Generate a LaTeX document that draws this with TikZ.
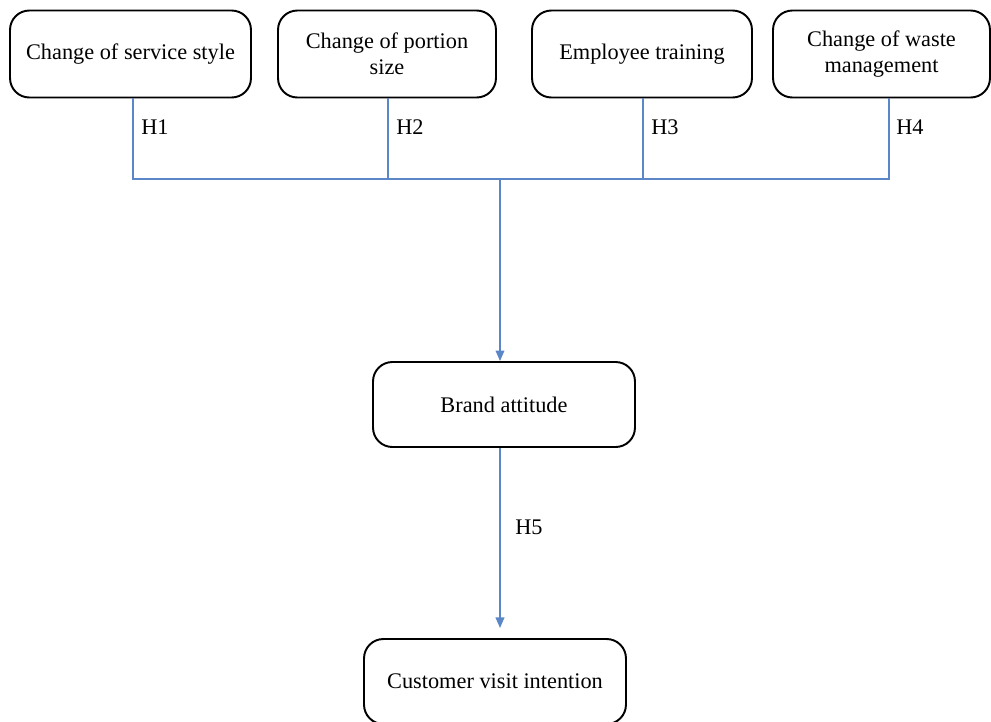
\documentclass[tikz,border=0pt]{standalone}
\usepackage{fontspec}
\setmainfont{Liberation Serif}
\usetikzlibrary{arrows.meta}

\definecolor{linkblue}{HTML}{5B87C8}

\begin{document}
\begin{tikzpicture}[x=0.02cm, y=-0.02cm,
    box/.style={draw, line width=1.1pt, rounded corners=11pt, align=center,
        minimum height=1.74cm, font=\fontsize{12.7}{14.7}\selectfont},
    link/.style={draw=linkblue, line width=0.7pt},
    hlabel/.style={anchor=west, inner sep=0pt, font=\fontsize{12.7}{14.7}\selectfont}]
    \useasboundingbox (0,0) rectangle (991,721);

    \node [box, minimum width=4.82cm] (service) at (130.5,54) {Change of service style};
    \node [box, minimum width=4.36cm] (portion) at (387,54) {Change of portion\\size};
    \node [box, minimum width=4.40cm] (training) at (642,54) {Employee training};
    \node [box, minimum width=4.34cm] (waste) at (881.5,54) {Change of waste\\management};

    \node [box, minimum width=5.24cm, minimum height=1.70cm] (attitude) at (504,404.5) {Brand attitude};
    \node [box, minimum width=5.24cm, minimum height=1.70cm] (visit) at (495,681.5) {Customer visit intention};

    \coordinate (j1) at (133,179);
    \coordinate (j2) at (388,179);
    \coordinate (j3) at (643,179);
    \coordinate (j4) at (889,179);
    \coordinate (jm) at (500,179);
    \coordinate (h5end) at (500,628);

    \draw [link] (service.south -| j1) -- (j1) -- (j4) -- (waste.south -| j4);
    \draw [link] (portion.south -| j2) -- (j2);
    \draw [link] (training.south -| j3) -- (j3);
    \draw [link, -{Triangle[width=5pt,length=6pt]}] (jm) -- (attitude.north -| jm);
    \draw [link, -{Triangle[width=5pt,length=6pt]}] (attitude.south -| jm) -- (h5end);

    \node [hlabel] (h1) at (141,127) {H1};
    \node [hlabel] (h2) at (396,127) {H2};
    \node [hlabel] (h3) at (651,127) {H3};
    \node [hlabel] (h4) at (896,127) {H4};
    \node [hlabel] (h5) at (515,527) {H5};
\end{tikzpicture}
\end{document}
